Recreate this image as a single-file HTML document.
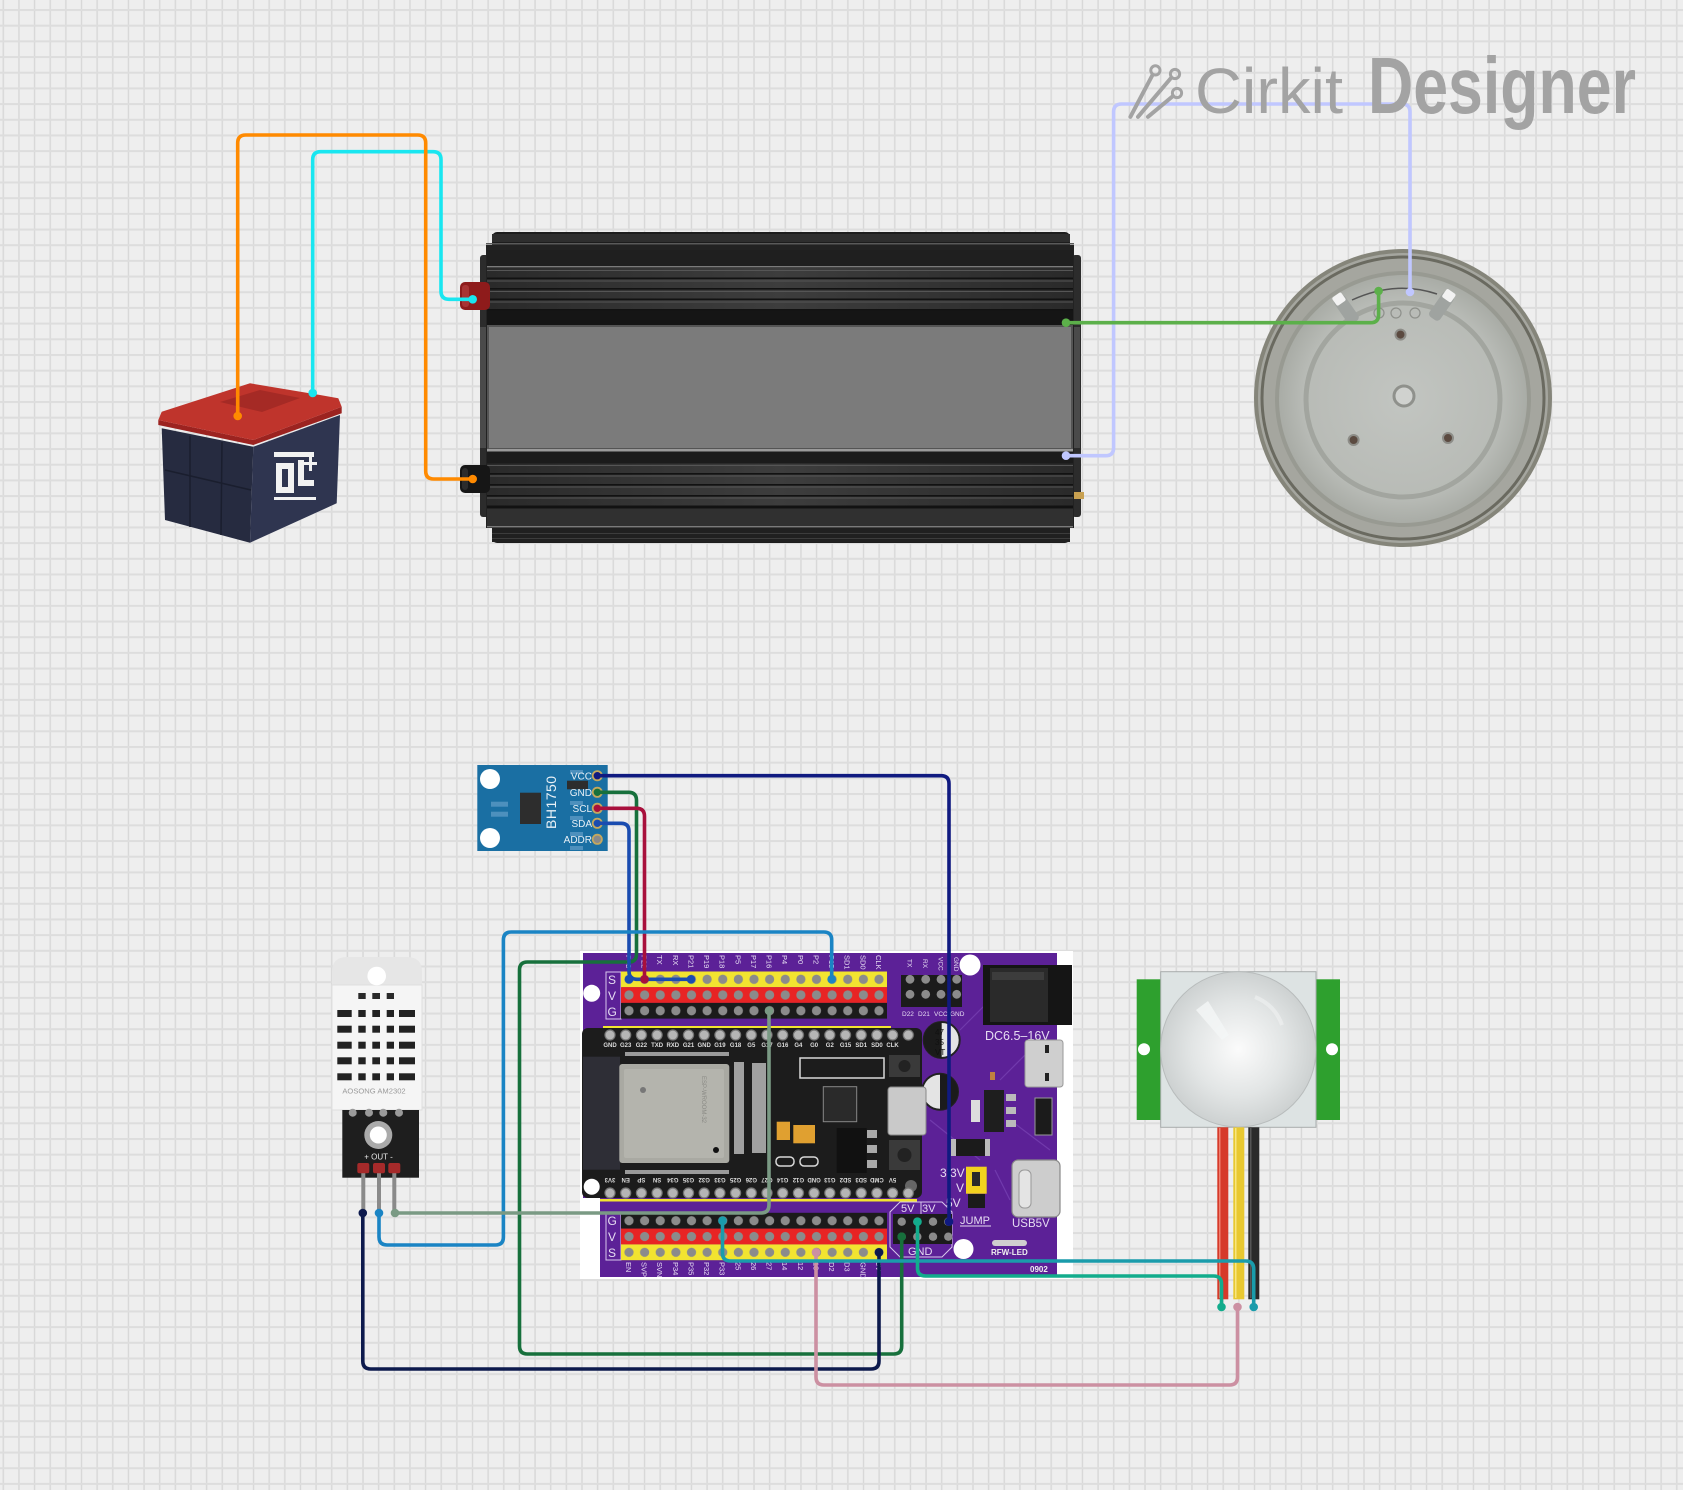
<!DOCTYPE html>
<html><head><meta charset="utf-8"><style>
html,body{margin:0;padding:0;background:#eeeeee;}
svg{display:block;}
text{font-family:"Liberation Sans",sans-serif;}
</style></head><body>
<svg xmlns="http://www.w3.org/2000/svg" width="1683" height="1490" viewBox="0 0 1683 1490">
<defs>
<pattern id="grid" x="2.3" y="9" width="15.64" height="15.68" patternUnits="userSpaceOnUse">
<rect width="15.64" height="15.68" fill="#eeeeee"/>
<rect x="0.3" y="0" width="1.4" height="15.68" fill="#d7d7d7"/>
<rect x="0" y="0" width="15.64" height="2" fill="#dddddd"/>
</pattern>
<pattern id="hp1" x="621.19" y="971.45" width="15.625" height="15.7" patternUnits="userSpaceOnUse"><circle cx="7.81" cy="7.85" r="4.6" fill="#8b8b8b"/></pattern>
<pattern id="hp2" x="621.19" y="1212.8" width="15.625" height="15.8" patternUnits="userSpaceOnUse"><circle cx="7.81" cy="7.9" r="4.6" fill="#8b8b8b"/></pattern>
<pattern id="mp" x="602.15" y="1027" width="15.7" height="158" patternUnits="userSpaceOnUse"><circle cx="7.85" cy="8" r="5" fill="#b5b5b5" stroke="#777" stroke-width="1.2"/></pattern>
<radialGradient id="dome" cx="0.5" cy="0.5" r="0.5" fx="0.5" fy="0.5">
<stop offset="0" stop-color="#fbfbfb"/><stop offset="0.6" stop-color="#e2e5e5"/><stop offset="1" stop-color="#cdd1d1"/>
</radialGradient>
<radialGradient id="plate" cx="0.5" cy="0.5" r="0.5">
<stop offset="0" stop-color="#c2c5c1"/><stop offset="0.8" stop-color="#b8bbb6"/><stop offset="1" stop-color="#a9aca6"/>
</radialGradient>
<linearGradient id="ribs" x1="0" y1="0" x2="1" y2="0">
<stop offset="0" stop-color="#2a2a2a"/><stop offset="0.5" stop-color="#3d3d3d"/><stop offset="1" stop-color="#2a2a2a"/>
</linearGradient>
</defs>

<rect width="1683" height="1490" fill="url(#grid)"/>

<!-- ================= INVERTER ================= -->
<rect x="480" y="255" width="10" height="262" rx="3" fill="#2c2c2c"/>
<rect x="480" y="327" width="9" height="121" fill="#4a4a4a"/>
<rect x="1072" y="255" width="9" height="262" rx="3" fill="#2c2c2c"/>
<rect x="1072" y="327" width="8" height="121" fill="#4a4a4a"/>
<rect x="492" y="232" width="578" height="311" rx="5" fill="#1d1d1d"/>
<rect x="486" y="245" width="588" height="283" fill="#222"/>
<rect x="492" y="234" width="578" height="8" fill="#2e2e2e"/>
<rect x="486" y="243" width="588" height="1.5" fill="#5a5a5a"/>
<rect x="487" y="250" width="586" height="16" fill="#1f1f1f"/>
<rect x="487" y="266" width="586" height="1.4" fill="#7a7a7a"/>
<rect x="487" y="268" width="586" height="42" fill="url(#ribs)"/>
<g fill="#121212"><rect x="487" y="277.5" width="586" height="1.6"/><rect x="487" y="288" width="586" height="1.6"/><rect x="487" y="298.5" width="586" height="1.6"/><rect x="487" y="309" width="586" height="1.6"/></g>
<g fill="#555"><rect x="487" y="270" width="586" height="1"/><rect x="487" y="280.5" width="586" height="1"/><rect x="487" y="291" width="586" height="1"/><rect x="487" y="301.5" width="586" height="1"/></g>
<rect x="487" y="310.5" width="586" height="16" fill="#151515"/>
<rect x="488" y="326" width="584" height="123" fill="#7b7b7b" stroke="#545454" stroke-width="2"/>
<rect x="487" y="449" width="586" height="2.5" fill="#9a9a9a"/>
<rect x="487" y="451.5" width="586" height="12" fill="#1b1b1b"/>
<rect x="487" y="463.5" width="586" height="43" fill="url(#ribs)"/>
<g fill="#121212"><rect x="487" y="473" width="586" height="1.6"/><rect x="487" y="484" width="586" height="1.6"/><rect x="487" y="495" width="586" height="1.6"/><rect x="487" y="505.5" width="586" height="2.5"/></g>
<g fill="#555"><rect x="487" y="465" width="586" height="1"/><rect x="487" y="475.5" width="586" height="1"/><rect x="487" y="486.5" width="586" height="1"/><rect x="487" y="497.5" width="586" height="1"/></g>
<rect x="487" y="509" width="586" height="17" fill="#303030"/>
<rect x="487" y="526" width="586" height="1.4" fill="#7a7a7a"/>
<rect x="492" y="528" width="578" height="14" fill="#202020"/>
<rect x="492" y="533" width="578" height="1" fill="#3c3c3c"/>
<rect x="492" y="538" width="578" height="1" fill="#3c3c3c"/>
<rect x="460" y="282" width="30" height="28" rx="5" fill="#8e1b1b"/>
<rect x="462" y="285" width="7" height="22" rx="3" fill="#a83333"/>
<rect x="460" y="465" width="30" height="28" rx="5" fill="#161616"/>
<rect x="462" y="468" width="6" height="22" rx="3" fill="#2c2c2c"/>
<rect x="1074" y="492" width="10" height="7" fill="#c8a050"/>

<!-- ================= BATTERY ================= -->
<polygon points="161.7,428.3 253.3,446.7 250,542.7 165,520" fill="#262b40"/>
<polygon points="253.3,446.7 340,415 336.7,503.3 250,542.7" fill="#2f3550"/>
<g stroke="#1a1e2e" stroke-width="1.5" fill="none">
<line x1="190" y1="436" x2="190" y2="527"/><line x1="222" y1="442" x2="221" y2="535"/>
<line x1="165" y1="470" x2="251" y2="490"/></g>
<polygon points="158.3,420 253.3,440 341.7,406.7 341.7,413.3 253.3,445 158.3,425" fill="#9c2320"/>
<polygon points="161.7,411.7 250,383.3 260,385 320,395 338.3,398.3 341.7,406.7 253.3,440 158.3,420" fill="#bf342c"/>
<polygon points="220,402 260,390 300,398 262,412" fill="#a52a25"/>
<g fill="#f2f2f2">
<rect x="276" y="463" width="6" height="30"/><rect x="276" y="463" width="18" height="6"/><rect x="288" y="463" width="6" height="28"/>
<rect x="276" y="487" width="18" height="6"/><rect x="298" y="460" width="6" height="26"/><rect x="298" y="480" width="16" height="6"/>
<rect x="309" y="457" width="3" height="14"/><rect x="304" y="462" width="13" height="3"/>
<rect x="274" y="452" width="40" height="5"/><rect x="274" y="497" width="42" height="3"/>
</g>
<circle cx="237.7" cy="416" r="4" fill="#8a6a30"/>
<circle cx="312.7" cy="393" r="4" fill="#8a6a30"/>

<!-- ================= HEATER ================= -->
<circle cx="1403" cy="398" r="149" fill="#85857a"/>
<circle cx="1403" cy="398" r="145" fill="#a5a69f"/>
<circle cx="1403" cy="398" r="141" fill="none" stroke="#6a6a60" stroke-width="3"/>
<circle cx="1403" cy="399" r="128" fill="#989a92"/>
<circle cx="1403" cy="399" r="124" fill="url(#plate)"/>
<circle cx="1403" cy="400" r="97" fill="none" stroke="#a2a59f" stroke-width="5"/>
<circle cx="1404" cy="396" r="10" fill="#d0d2cf" stroke="#8f918c" stroke-width="3"/>
<circle cx="1400.5" cy="334.6" r="5" fill="#5b4a40" stroke="#8d8d88" stroke-width="2"/>
<circle cx="1353.6" cy="440" r="5" fill="#5b4a40" stroke="#8d8d88" stroke-width="2"/>
<circle cx="1448" cy="438" r="5" fill="#5b4a40" stroke="#8d8d88" stroke-width="2"/>
<path d="M1352,300 Q1395,280 1437,294" fill="none" stroke="#555" stroke-width="1.5"/>
<g transform="rotate(-35 1346 310)"><rect x="1340" y="295" width="13" height="30" rx="4" fill="#9fa3a0"/><rect x="1341" y="292" width="11" height="10" rx="2" fill="#f2f2f2"/></g>
<g transform="rotate(35 1441 306)"><rect x="1435" y="291" width="13" height="30" rx="4" fill="#9fa3a0"/><rect x="1436" y="288" width="11" height="10" rx="2" fill="#f2f2f2"/></g>
<g fill="none" stroke="#8e908b" stroke-width="1.2"><circle cx="1379" cy="313" r="5"/><circle cx="1396" cy="313" r="5"/><circle cx="1415" cy="313" r="5"/></g>

<!-- ================= BH1750 ================= -->
<rect x="477.3" y="765" width="130.4" height="86" fill="#1a6fa3"/>
<circle cx="490" cy="779" r="10" fill="#fff"/>
<circle cx="490" cy="838" r="10" fill="#fff"/>
<rect x="491" y="801.7" width="17" height="5" fill="#4d90bd"/>
<rect x="491" y="811.7" width="17" height="5" fill="#4d90bd"/>
<rect x="520" y="792.7" width="21" height="31.3" fill="#2d2d2d"/>
<rect x="567" y="780.7" width="21" height="8.6" fill="#2d2d2d"/>
<g fill="#4d90bd"><rect x="570" y="770" width="13" height="4"/><rect x="570" y="801" width="13" height="4"/><rect x="570" y="816" width="13" height="4"/><rect x="570" y="832" width="13" height="4"/><rect x="570" y="846" width="13" height="4"/></g>
<text transform="translate(556,829) rotate(-90)" font-size="14" fill="#e8f0f6" letter-spacing="0.5">BH1750</text>
<g font-size="10" fill="#e8f0f6" text-anchor="end">
<text x="592" y="779.3">VCC</text><text x="592" y="796">GND</text><text x="592" y="812">SCL</text><text x="592" y="827">SDA</text><text x="592" y="843">ADDR</text>
</g>
<g stroke="#c4a85e" stroke-width="1.8">
<circle cx="597.3" cy="775.7" r="4.6" fill="#101a80"/>
<circle cx="597.3" cy="792.3" r="4.6" fill="#17703c"/>
<circle cx="597.3" cy="808.3" r="4.6" fill="#a8103c"/>
<circle cx="597.3" cy="823.3" r="4.6" fill="#1a4cb0"/>
<circle cx="597.3" cy="839.3" r="4.6" fill="#8a8a8a"/>
</g>

<!-- ================= DHT22 ================= -->
<path d="M332,986 L332,972 Q332,957 347,957 L407,957 Q422,957 422,972 L422,986 Z" fill="#e6e6e6"/>
<rect x="332" y="985" width="90" height="125" fill="#f5f5f5" stroke="#dedede" stroke-width="1"/>
<circle cx="376.7" cy="976" r="9.3" fill="#fff"/>
<g fill="#2a2a2a">
<rect x="358.3" y="993" width="7.4" height="6"/><rect x="372.3" y="993" width="7.7" height="6"/><rect x="386.7" y="993" width="7.3" height="6"/>
</g>
<g fill="#222">
<rect x="337.3" y="1010" width="14.4" height="7"/><rect x="358.3" y="1010" width="7.4" height="7"/><rect x="372.3" y="1010" width="7.7" height="7"/><rect x="386.7" y="1010" width="7.3" height="7"/><rect x="399" y="1010" width="16" height="7"/>
<rect x="337.3" y="1025.7" width="14.4" height="7"/><rect x="358.3" y="1025.7" width="7.4" height="7"/><rect x="372.3" y="1025.7" width="7.7" height="7"/><rect x="386.7" y="1025.7" width="7.3" height="7"/><rect x="399" y="1025.7" width="16" height="7"/>
<rect x="337.3" y="1041.7" width="14.4" height="7"/><rect x="358.3" y="1041.7" width="7.4" height="7"/><rect x="372.3" y="1041.7" width="7.7" height="7"/><rect x="386.7" y="1041.7" width="7.3" height="7"/><rect x="399" y="1041.7" width="16" height="7"/>
<rect x="337.3" y="1057.3" width="14.4" height="7"/><rect x="358.3" y="1057.3" width="7.4" height="7"/><rect x="372.3" y="1057.3" width="7.7" height="7"/><rect x="386.7" y="1057.3" width="7.3" height="7"/><rect x="399" y="1057.3" width="16" height="7"/>
<rect x="337.3" y="1073.3" width="14.4" height="7"/><rect x="358.3" y="1073.3" width="7.4" height="7"/><rect x="372.3" y="1073.3" width="7.7" height="7"/><rect x="386.7" y="1073.3" width="7.3" height="7"/><rect x="399" y="1073.3" width="16" height="7"/>
</g>
<text x="374" y="1093.5" font-size="7.6" fill="#9a9a9a" text-anchor="middle">AOSONG AM2302</text>
<rect x="342.3" y="1110" width="76.7" height="67.7" fill="#1e1e1e"/>
<g fill="#9a9a9a"><circle cx="352.7" cy="1112.7" r="4"/><circle cx="369" cy="1112.7" r="4"/><circle cx="383.3" cy="1112.7" r="4"/><circle cx="399" cy="1112.7" r="4"/></g>
<circle cx="378.3" cy="1135" r="14" fill="#aaaaaa"/>
<circle cx="378.3" cy="1135" r="8.5" fill="#ffffff"/>
<text x="378.5" y="1159.5" font-size="8" fill="#e8e8e8" text-anchor="middle">+  OUT  -</text>
<g fill="#8a8a8a"><rect x="361.3" y="1170" width="4" height="44"/><rect x="377" y="1170" width="4" height="44"/><rect x="392.3" y="1170" width="4" height="44"/></g>
<g fill="#a52a2a"><rect x="357.3" y="1163" width="12" height="10.3" rx="2"/><rect x="373" y="1163" width="12" height="10.3" rx="2"/><rect x="388.3" y="1163" width="12" height="10.3" rx="2"/></g>

<!-- ================= ESP32 BOARD ================= -->
<rect x="580" y="951" width="493" height="328" fill="#ffffff"/>
<path d="M583,953 L1057,953 L1057,1277 L600,1277 L600,1198 L583,1198 Z" fill="#5c2197"/>
<g stroke="#7a45b5" stroke-width="1.2" fill="none" opacity="0.7">
<path d="M960,1030 L985,1005"/><path d="M1000,1080 L1030,1050"/><path d="M930,1120 L980,1160"/><path d="M1010,1120 L1050,1150"/><path d="M995,1170 L1010,1200"/>
</g>
<!-- top header -->
<rect x="606" y="972" width="15" height="47" fill="none" stroke="#d8c8ec" stroke-width="1"/>
<text x="608" y="984" font-size="12" fill="#e6dcf2">S</text>
<text x="608" y="1000" font-size="12" fill="#e6dcf2">V</text>
<text x="607.5" y="1016" font-size="12" fill="#e6dcf2">G</text>
<rect x="621" y="971.5" width="266" height="15.7" fill="#f2e430"/>
<rect x="621" y="987.2" width="266" height="15.7" fill="#e82424"/>
<rect x="621" y="1002.9" width="266" height="15.7" fill="#1b1b1b"/>
<rect x="621" y="971.5" width="266" height="47.1" fill="url(#hp1)"/>
<g font-size="7.5" fill="#e6dcf2">
<text transform="translate(626,955) rotate(90)">P23</text><text transform="translate(641.6,955) rotate(90)">P22</text>
<text transform="translate(657.2,955) rotate(90)">TX</text><text transform="translate(672.8,955) rotate(90)">RX</text>
<text transform="translate(688.4,955) rotate(90)">P21</text><text transform="translate(704,955) rotate(90)">P19</text>
<text transform="translate(719.7,955) rotate(90)">P18</text><text transform="translate(735.3,955) rotate(90)">P5</text>
<text transform="translate(751,955) rotate(90)">P17</text><text transform="translate(766.6,955) rotate(90)">P16</text>
<text transform="translate(782.2,955) rotate(90)">P4</text><text transform="translate(797.8,955) rotate(90)">P0</text>
<text transform="translate(813.4,955) rotate(90)">P2</text><text transform="translate(829,955) rotate(90)">P15</text>
<text transform="translate(844.7,955) rotate(90)">SD1</text><text transform="translate(860.3,955) rotate(90)">SD0</text>
<text transform="translate(876,955) rotate(90)">CLK</text>
</g>
<!-- small 2x4 header top right -->
<rect x="901" y="975" width="61" height="32" fill="#1b1b1b"/>
<g fill="#8b8b8b"><circle cx="910" cy="979.3" r="4.4"/><circle cx="925.7" cy="979.3" r="4.4"/><circle cx="941" cy="979.3" r="4.4"/><circle cx="956.7" cy="979.3" r="4.4"/>
<circle cx="910" cy="994.3" r="4.4"/><circle cx="925.7" cy="994.3" r="4.4"/><circle cx="941" cy="994.3" r="4.4"/><circle cx="956.7" cy="994.3" r="4.4"/></g>
<g font-size="6.5" fill="#e6dcf2">
<text transform="translate(907.5,959) rotate(90)">TX</text><text transform="translate(923,959) rotate(90)">RX</text>
<text transform="translate(938.5,957) rotate(90)">VCC</text><text transform="translate(954,957) rotate(90)">GND</text>
<text x="902" y="1016">D22</text><text x="918" y="1016">D21</text><text x="934" y="1016">VCC</text><text x="950" y="1016">GND</text>
</g>
<circle cx="970" cy="965" r="10.5" fill="#ffffff"/>
<circle cx="591.7" cy="993.3" r="8.5" fill="#ffffff"/>
<!-- DC jack -->
<rect x="983" y="965" width="89" height="60" fill="#151515"/>
<rect x="990" y="968" width="58" height="54" fill="#2a2a2a"/>
<rect x="992" y="972" width="52" height="8" fill="#3c3c3c"/>
<text x="985" y="1040" font-size="12.5" fill="#e6dcf2">DC6.5–16V</text>
<!-- micro usb right -->
<rect x="1025" y="1040" width="38" height="47" rx="3" fill="#cfcfcf" stroke="#999" stroke-width="1"/>
<rect x="1045" y="1045" width="4" height="8" fill="#222"/><rect x="1045" y="1073" width="4" height="8" fill="#222"/>
<!-- caps -->
<circle cx="941.7" cy="1040" r="18" fill="#e4e4e4" stroke="#222" stroke-width="2"/>
<path d="M941.7,1022 A18,18 0 0 0 941.7,1058 Z" fill="#1b1b1b"/>
<text x="935" y="1035" font-size="8" fill="#111">47</text><text x="935" y="1045" font-size="8" fill="#111">35</text><text x="935" y="1055" font-size="8" fill="#111">VT</text>
<circle cx="940" cy="1091.7" r="18" fill="#e4e4e4" stroke="#222" stroke-width="2"/>
<path d="M940,1073.7 A18,18 0 0 1 940,1109.7 Z" fill="#1b1b1b"/>
<rect x="984" y="1090" width="20" height="42" fill="#1e1e1e"/>
<g fill="#bbb"><rect x="1006" y="1094" width="10" height="7"/><rect x="1006" y="1107" width="10" height="7"/><rect x="1006" y="1120" width="10" height="7"/></g>
<rect x="971" y="1100" width="9" height="22" fill="#ddd"/>
<rect x="990" y="1072" width="5" height="8" fill="#c08040"/>
<rect x="1035" y="1098" width="17" height="37" fill="#1b1b1b" stroke="#999" stroke-width="1"/>
<rect x="951" y="1139" width="39" height="17" fill="#1b1b1b"/>
<rect x="951" y="1139" width="5" height="17" fill="#bbb"/><rect x="985" y="1139" width="5" height="17" fill="#bbb"/>
<!-- USB-C -->
<rect x="1012" y="1160" width="48" height="57" rx="6" fill="#cdcdcd" stroke="#888" stroke-width="1.2"/>
<rect x="1019" y="1170" width="12" height="38" rx="5" fill="#e4e4e4" stroke="#999" stroke-width="1"/>
<!-- jumper -->
<rect x="966" y="1166.7" width="20.7" height="27" fill="#f2d21e"/>
<rect x="972" y="1172" width="8" height="14" fill="#2a2a2a"/>
<rect x="968" y="1194" width="17" height="14" fill="#1b1b1b"/>
<g font-size="12" fill="#e6dcf2"><text x="940" y="1177">3.3V</text><text x="956" y="1192">V</text><text x="946" y="1207">5V</text>
<text x="960" y="1224" font-size="11">JUMP</text><text x="1012" y="1227" font-size="11.5">USB5V</text></g>
<line x1="960" y1="1226" x2="991" y2="1226" stroke="#e6dcf2" stroke-width="1"/>
<rect x="992" y="1240" width="35" height="6" rx="3" fill="#cfcfcf"/>
<text x="991" y="1255" font-size="8" font-weight="bold" font-family="Liberation Serif,serif" fill="#f0f0f0">RFW-LED</text>
<text x="1030" y="1272" font-size="8" font-weight="bold" fill="#f0f0f0">0902</text>
<circle cx="963.5" cy="1249" r="10" fill="#ffffff"/>

<!-- ESP32 module -->
<rect x="603" y="1026" width="288" height="2" fill="#f2e430"/>
<rect x="600" y="1199" width="317" height="2.5" fill="#f2e430"/>
<rect x="582" y="1028" width="340" height="170" rx="6" fill="#1c1c1c"/>
<rect x="583" y="1056.7" width="37" height="113" fill="#2e2e36"/>
<rect x="619.3" y="1064" width="110" height="99" rx="3" fill="#a9a9a2"/>
<rect x="624" y="1069" width="100" height="89" rx="2" fill="#b4b4ad"/>
<g fill="#8a8a85" font-size="6"><text transform="translate(702,1076) rotate(90)">ESP-WROOM-32</text></g>
<circle cx="643" cy="1090" r="3" fill="#777"/>
<circle cx="716" cy="1150" r="3" fill="#111"/>
<g fill="#9a9a9a"><rect x="625" y="1052" width="104" height="4"/><rect x="625" y="1170" width="104" height="4"/></g>
<g fill="#a0a0a0"><rect x="734" y="1062" width="10" height="92"/><rect x="752" y="1063" width="14" height="90"/></g>
<g fill="none" stroke="#d8d8d8" stroke-width="1.5"><rect x="800" y="1058" width="84" height="20"/><rect x="776" y="1157" width="18" height="9" rx="4"/><rect x="800" y="1157" width="18" height="9" rx="4"/></g>
<rect x="823.3" y="1086.7" width="33.4" height="35" fill="#2a2a2a" stroke="#888" stroke-width="1"/>
<rect x="776.7" y="1121.7" width="13.3" height="18.3" fill="#e0a030"/>
<rect x="793.3" y="1125" width="21.7" height="18.3" fill="#e0a030"/>
<rect x="836.7" y="1128" width="30" height="45" fill="#111"/>
<g fill="#aaa"><rect x="867" y="1130" width="10" height="8"/><rect x="867" y="1145" width="10" height="8"/><rect x="867" y="1160" width="10" height="8"/></g>
<rect x="888" y="1087" width="38" height="48" rx="3" fill="#c9c9c9" stroke="#888" stroke-width="1"/>
<rect x="889" y="1055" width="31" height="22" fill="#3a3a3a"/><circle cx="904.5" cy="1066" r="6" fill="#222"/>
<rect x="889" y="1140" width="31" height="30" fill="#3a3a3a"/><circle cx="904.5" cy="1155" r="7" fill="#222"/>
<circle cx="591.7" cy="1186.7" r="8" fill="#ffffff"/>
<circle cx="911" cy="1186" r="6" fill="#666"/>
<rect x="602" y="1027" width="314" height="174" fill="url(#mp)"/>
<g font-size="6" font-weight="bold" fill="#dddddd" text-anchor="middle">
<text x="610" y="1047">GND</text><text x="625.7" y="1047">G23</text><text x="641.4" y="1047">G22</text><text x="657.1" y="1047">TXD</text><text x="672.8" y="1047">RXD</text><text x="688.5" y="1047">G21</text><text x="704.2" y="1047">GND</text><text x="719.9" y="1047">G19</text><text x="735.6" y="1047">G18</text><text x="751.3" y="1047">G5</text><text x="767" y="1047">G17</text><text x="782.7" y="1047">G16</text><text x="798.4" y="1047">G4</text><text x="814.1" y="1047">G0</text><text x="829.8" y="1047">G2</text><text x="845.5" y="1047">G15</text><text x="861.2" y="1047">SD1</text><text x="876.9" y="1047">SD0</text><text x="892.6" y="1047">CLK</text>
</g>
<g font-size="6" font-weight="bold" fill="#dddddd" text-anchor="middle">
<text transform="translate(610,1178) rotate(180)">3V3</text><text transform="translate(625.7,1178) rotate(180)">EN</text><text transform="translate(641.4,1178) rotate(180)">SP</text><text transform="translate(657.1,1178) rotate(180)">SN</text><text transform="translate(672.8,1178) rotate(180)">G34</text><text transform="translate(688.5,1178) rotate(180)">G35</text><text transform="translate(704.2,1178) rotate(180)">G32</text><text transform="translate(719.9,1178) rotate(180)">G33</text><text transform="translate(735.6,1178) rotate(180)">G25</text><text transform="translate(751.3,1178) rotate(180)">G26</text><text transform="translate(767,1178) rotate(180)">G27</text><text transform="translate(782.7,1178) rotate(180)">G14</text><text transform="translate(798.4,1178) rotate(180)">G12</text><text transform="translate(814.1,1178) rotate(180)">GND</text><text transform="translate(829.8,1178) rotate(180)">G13</text><text transform="translate(845.5,1178) rotate(180)">SD2</text><text transform="translate(861.2,1178) rotate(180)">SD3</text><text transform="translate(876.9,1178) rotate(180)">CMD</text><text transform="translate(892.6,1178) rotate(180)">5V</text>
</g>

<!-- bottom header -->
<rect x="606" y="1213" width="15" height="47" fill="none" stroke="#d8c8ec" stroke-width="1"/>
<text x="607.5" y="1225" font-size="12" fill="#e6dcf2">G</text>
<text x="608" y="1241" font-size="12" fill="#e6dcf2">V</text>
<text x="608" y="1257" font-size="12" fill="#e6dcf2">S</text>
<rect x="621" y="1212.8" width="266" height="15.8" fill="#1b1b1b"/>
<rect x="621" y="1228.6" width="266" height="15.8" fill="#e82424"/>
<rect x="621" y="1244.4" width="266" height="15.8" fill="#f2e430"/>
<rect x="621" y="1212.8" width="266" height="47.4" fill="url(#hp2)"/>
<g font-size="7.5" fill="#e6dcf2">
<text transform="translate(626,1262) rotate(90)">EN</text><text transform="translate(641.6,1262) rotate(90)">SVP</text>
<text transform="translate(657.2,1262) rotate(90)">SVN</text><text transform="translate(672.8,1262) rotate(90)">P34</text>
<text transform="translate(688.4,1262) rotate(90)">P35</text><text transform="translate(704,1262) rotate(90)">P32</text>
<text transform="translate(719.7,1262) rotate(90)">P33</text><text transform="translate(735.3,1262) rotate(90)">25</text>
<text transform="translate(751,1262) rotate(90)">26</text><text transform="translate(766.6,1262) rotate(90)">27</text>
<text transform="translate(782.2,1262) rotate(90)">14</text><text transform="translate(797.8,1262) rotate(90)">12</text>
<text transform="translate(813.4,1262) rotate(90)">13</text><text transform="translate(829,1262) rotate(90)">D2</text>
<text transform="translate(844.7,1262) rotate(90)">D3</text><text transform="translate(860.3,1262) rotate(90)">GND</text>
<text transform="translate(876,1262) rotate(90)">5V</text>
</g>
<!-- jumper block -->
<path d="M900,1202 L942,1202 L952,1212 L952,1247 L942,1257 L900,1257 L890,1247 L890,1212 Z" fill="none" stroke="#d8c8ec" stroke-width="1"/>
<line x1="921" y1="1202" x2="921" y2="1214" stroke="#d8c8ec" stroke-width="1"/>
<rect x="893" y="1214" width="59" height="30" fill="#1b1b1b"/>
<g fill="#8b8b8b"><circle cx="901.7" cy="1221.7" r="4.2"/><circle cx="917.3" cy="1221.7" r="4.2"/><circle cx="933" cy="1221.7" r="4.2"/><circle cx="948.3" cy="1221.7" r="4.2"/>
<circle cx="901.7" cy="1236.7" r="4.2"/><circle cx="917.3" cy="1236.7" r="4.2"/><circle cx="933" cy="1236.7" r="4.2"/><circle cx="948.3" cy="1236.7" r="4.2"/></g>
<g font-size="11" fill="#e6dcf2"><text x="901" y="1212">5V</text><text x="922" y="1212">3V</text><text x="908" y="1255">GND</text></g>

<!-- ================= PIR ================= -->
<rect x="1136.7" y="979.3" width="24" height="140.7" fill="#2ea02e"/>
<rect x="1316" y="979.3" width="24" height="140.7" fill="#2ea02e"/>
<circle cx="1144" cy="1049.3" r="6" fill="#fff"/>
<circle cx="1332" cy="1049.3" r="6" fill="#fff"/>
<rect x="1160.7" y="971.7" width="155.3" height="155.6" fill="#dde3e3" stroke="#a8acac" stroke-width="1"/>
<circle cx="1238.3" cy="1049.3" r="77.7" fill="url(#dome)" stroke="#b8bcbc" stroke-width="1"/>
<polygon points="1196,1010 1208,1001 1229,1035 1222,1040" fill="#f4f6f6" opacity="0.8"/>
<path d="M1255,997 Q1275,1005 1282,1025" fill="none" stroke="#f0f2f2" stroke-width="4" opacity="0.6"/>
<rect x="1217.3" y="1127.3" width="11" height="172" fill="#d63a2a"/>
<rect x="1233.3" y="1127.3" width="11" height="172" fill="#e8c830"/>
<rect x="1248.3" y="1127.3" width="11" height="172" fill="#2a2a2a"/>
<rect x="1219" y="1128" width="1.5" height="170" fill="#f08070"/>
<rect x="1235" y="1128" width="1.5" height="170" fill="#f8e680"/>
<rect x="1250" y="1128" width="1.5" height="170" fill="#555"/>

<!-- ================= WIRES ================= -->
<g fill="none" stroke-width="3.6" stroke-linecap="round" stroke-linejoin="round">
<path stroke="#19e6f0" d="M312.7,393 L312.7,159.7 Q312.7,151.7 320.7,151.7 L433,151.7 Q441,151.7 441,159.7 L441,291.3 Q441,299.3 449,299.3 L472.7,299.3"/>
<path stroke="#ff8a00" d="M237.7,416 L237.7,143 Q237.7,135 245.7,135 L417.7,135 Q425.7,135 425.7,143 L425.7,471 Q425.7,479 433.7,479 L472.7,479"/>
<path stroke="#c0c7ff" d="M1410,292 L1410,112 Q1410,104 1402,104 L1121.6,104 Q1113.6,104 1113.6,112 L1113.6,447.7 Q1113.6,455.7 1105.6,455.7 L1066,455.7"/>
<path stroke="#5cb04a" d="M1066,322.7 L1370.6,322.7 Q1378.6,322.7 1378.6,314.7 L1378.6,291"/>

<path stroke="#101a80" d="M597.3,775.7 L941,775.7 Q949,775.7 949,783.7 L949,1221.7"/>
<path stroke="#17703c" d="M597.3,792.3 L628.5,792.3 Q636.5,792.3 636.5,800.3 L636.5,954 Q636.5,962 628.5,962 L527.5,962 Q519.5,962 519.5,970 L519.5,1346 Q519.5,1354 527.5,1354 L893.7,1354 Q901.7,1354 901.7,1346 L901.7,1236.7"/>
<path stroke="#a8103c" d="M597.3,808.3 L636.5,808.3 Q644.5,808.3 644.5,816.3 L644.5,979.3"/>
<path stroke="#1a4cb0" d="M597.3,823.3 L621,823.3 Q629,823.3 629,831.3 L629,971.3 Q629,979.3 637,979.3 L691,979.3"/>
<path stroke="#1a84c4" d="M379,1213 L379,1237 Q379,1245 387,1245 L495.4,1245 Q503.4,1245 503.4,1237 L503.4,940 Q503.4,932 511.4,932 L823.7,932 Q831.7,932 831.7,940 L831.7,979.3"/>
<path stroke="#7a9a84" d="M395,1213 L761,1213 Q769,1213 769,1205 L769,1010.7"/>
<path stroke="#0d1a4d" d="M362.8,1213 L362.8,1361 Q362.8,1369 370.8,1369 L871,1369 Q879,1369 879,1361 L879,1252.3"/>
<path stroke="#cc90a2" d="M816,1252.3 L816,1377 Q816,1385 824,1385 L1229.5,1385 Q1237.5,1385 1237.5,1377 L1237.5,1307"/>
<path stroke="#1a9cab" d="M722.5,1220.7 L722.5,1253 Q722.5,1261 730.5,1261 L1245.7,1261 Q1253.7,1261 1253.7,1269 L1253.7,1307"/>
<path stroke="#12ac8c" d="M917.5,1221.7 L917.5,1268 Q917.5,1276 925.5,1276 L1213.5,1276 Q1221.5,1276 1221.5,1284 L1221.5,1307"/>
</g>
<!-- wire end dots -->
<g>
<circle cx="312.7" cy="393" r="4.3" fill="#19e6f0"/><circle cx="472.7" cy="299.3" r="4.3" fill="#19e6f0"/>
<circle cx="237.7" cy="416" r="4.3" fill="#ff8a00"/><circle cx="472.7" cy="479" r="4.3" fill="#ff8a00"/>
<circle cx="1410" cy="292" r="4.3" fill="#c0c7ff"/><circle cx="1066" cy="455.7" r="4.3" fill="#c0c7ff"/>
<circle cx="1066" cy="322.7" r="4.3" fill="#5cb04a"/><circle cx="1378.6" cy="291" r="4.3" fill="#5cb04a"/>
<circle cx="949" cy="1221.7" r="4.3" fill="#101a80"/>
<circle cx="901.7" cy="1236.7" r="4.3" fill="#17703c"/>
<circle cx="644.5" cy="979.3" r="4.3" fill="#a8103c"/>
<circle cx="629" cy="979.3" r="4.3" fill="#1a4cb0"/><circle cx="691" cy="979.3" r="4.3" fill="#1a4cb0"/>
<circle cx="379" cy="1213" r="4.3" fill="#1a84c4"/><circle cx="831.7" cy="979.3" r="4.3" fill="#1a84c4"/>
<circle cx="395" cy="1213" r="4.3" fill="#7a9a84"/><circle cx="769" cy="1010.7" r="4.3" fill="#7a9a84"/>
<circle cx="362.8" cy="1213" r="4.3" fill="#0d1a4d"/><circle cx="879" cy="1252.3" r="4.3" fill="#0d1a4d"/>
<circle cx="816" cy="1252.3" r="4.3" fill="#cc90a2"/><circle cx="1237.5" cy="1307" r="4.3" fill="#cc90a2"/>
<circle cx="722.5" cy="1220.7" r="4.3" fill="#1a9cab"/><circle cx="1253.7" cy="1307" r="4.3" fill="#1a9cab"/>
<circle cx="917.5" cy="1221.7" r="4.3" fill="#12ac8c"/><circle cx="1221.5" cy="1307" r="4.3" fill="#12ac8c"/>
</g>

<!-- ================= LOGO ================= -->
<g stroke="#a3a3a3" stroke-width="4" fill="none" stroke-linecap="round">
<line x1="1130.4" y1="116.8" x2="1152.5" y2="75"/>
<line x1="1138" y1="116.8" x2="1171" y2="78"/>
<line x1="1148" y1="116.8" x2="1173" y2="96"/>
<circle cx="1155.4" cy="70.4" r="4.6" stroke-width="3"/>
<circle cx="1175" cy="74" r="4.6" stroke-width="3"/>
<circle cx="1177" cy="93" r="4.6" stroke-width="3"/>
</g>
<text x="1195" y="113" font-size="64" fill="#a3a3a3" textLength="148" lengthAdjust="spacingAndGlyphs">Cirkit</text>
<text x="1368" y="113" font-size="80" font-weight="bold" fill="#a3a3a3" textLength="268" lengthAdjust="spacingAndGlyphs">Designer</text>
</svg>
</body></html>
